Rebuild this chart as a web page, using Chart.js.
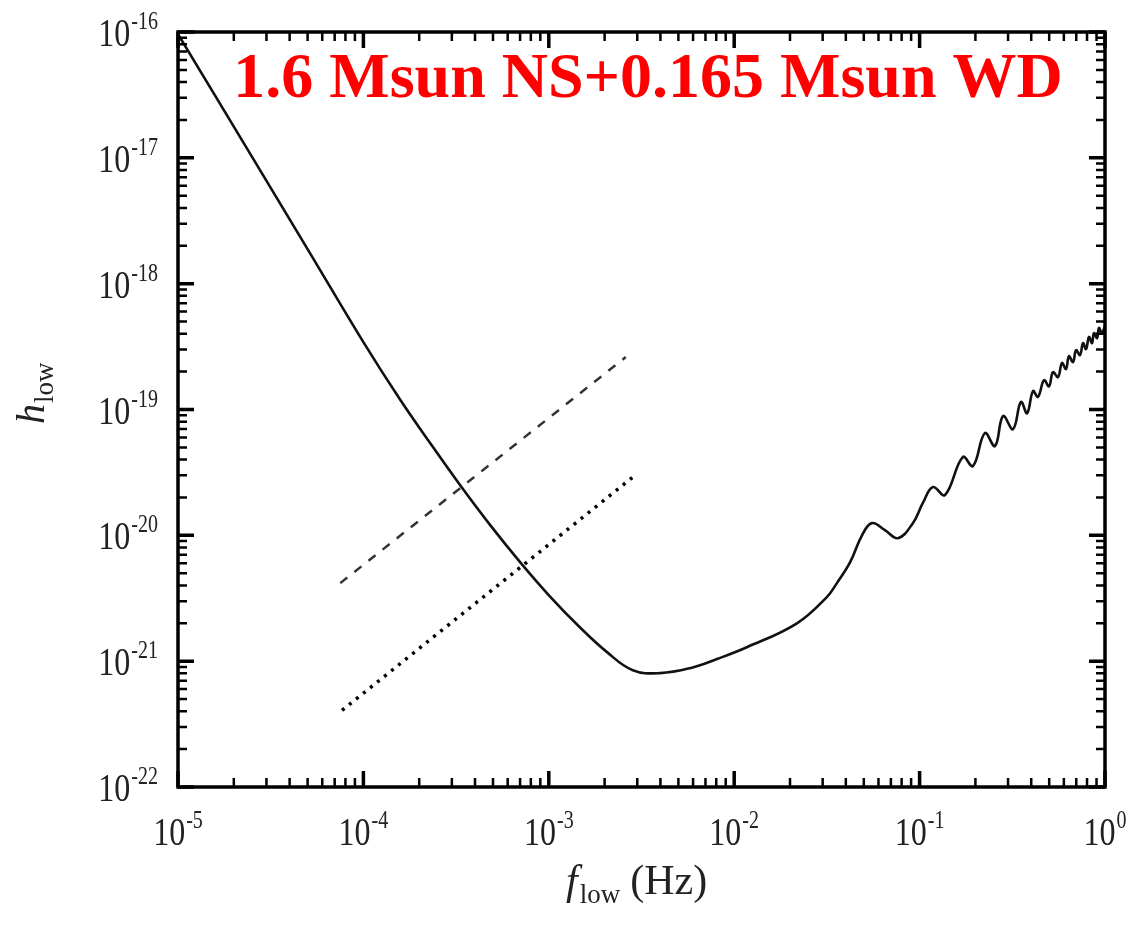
<!DOCTYPE html>
<html>
<head>
<meta charset="utf-8">
<script src="https://cdn.jsdelivr.net/npm/chart.js@4.4.0/dist/chart.umd.min.js"></script>
<style>
  html, body { margin: 0; padding: 0; background: #fff; }
</style>
</head>
<body>
<canvas id="chart" width="1127" height="933"></canvas>
<script>
// solid curve: frequency (Hz) and strain
const curveF = [1e-5, 2.57e-5, 5.15e-5, 1.0e-4, 1.57e-4, 2.29e-4, 3.32e-4, 4.82e-4, 7.0e-4, 1.01e-3, 1.47e-3, 2.06e-3,
  2.84e-3, 3.98e-3, 5.78e-3, 8.07e-3, 1.17e-2, 2.18e-2, 3.16e-2, 3.58e-2, 4.22e-2, 4.89e-2,
  5.53e-2, 6.5e-2, 7.65e-2, 9.2e-2, 0.104, 0.118, 0.137, 0.171, 0.194, 0.225,
  0.255, 0.282, 0.319, 0.352, 0.380, 0.409, 0.435, 0.469, 0.499, 0.524,
  0.558, 0.586, 0.616, 0.639, 0.672, 0.698, 0.733, 0.761, 0.790, 0.820,
  0.851, 0.872, 0.906, 0.928, 0.963, 1.0];
const curveH = [9.6e-17, 9.6e-18, 1.75e-18, 3.43e-19, 1.21e-19, 5.41e-20, 2.51e-20, 1.21e-20, 6.12e-21, 3.29e-21, 1.86e-21, 1.18e-21,
  8.47e-22, 8.04e-22, 8.8e-22, 1.04e-21, 1.29e-21, 2.0e-21, 3.23e-21, 4.17e-21, 6.12e-21, 1.0e-20,
  1.25e-20, 1.10e-20, 9.5e-21, 1.25e-20, 1.80e-20, 2.42e-20, 2.09e-20, 4.19e-20, 3.55e-20, 6.49e-20,
  5.12e-20, 8.87e-20, 6.98e-20, 1.15e-19, 9.35e-20, 1.40e-19, 1.26e-19, 1.71e-19, 1.53e-19, 1.98e-19,
  1.81e-19, 2.34e-19, 2.10e-19, 2.65e-19, 2.38e-19, 2.96e-19, 2.71e-19, 3.37e-19, 3.02e-19, 3.77e-19,
  3.37e-19, 4.05e-19, 3.70e-19, 4.44e-19, 4.05e-19, 4.60e-19];

// dashed and dotted straight lines (end points)
const dashF = [7.5e-5, 2.6e-3];
const dashH = [4.17e-21, 2.61e-19];
const dotF = [7.67e-5, 2.84e-3];
const dotH = [4.07e-22, 2.9e-20];

// axes
const xExps = [-5, -4, -3, -2, -1, 0];
const yExps = [-22, -21, -20, -19, -18, -17, -16];
const titleText = '1.6 Msun NS+0.165 Msun WD';

const toPoints = (xs, ys) => xs.map((x, i) => ({ x: x, y: ys[i] }));

const SERIF = '"Liberation Serif", "Times New Roman", serif';

function drawPower(ctx, exp, x, y, align) {
  const sx = 0.8;
  const expStr = '' + exp;
  ctx.font = '40px ' + SERIF;
  const wb = ctx.measureText('10').width * sx;
  ctx.font = '25px ' + SERIF;
  const we = ctx.measureText(expStr).width * sx;
  const total = wb + 1 + we;
  let start = x;
  if (align === 'right') start = x - total;
  if (align === 'center') start = x - total / 2;
  ctx.save();
  ctx.textAlign = 'left';
  ctx.textBaseline = 'alphabetic';
  ctx.fillStyle = '#222';
  ctx.translate(start, y);
  ctx.scale(sx, 1);
  ctx.font = '40px ' + SERIF;
  ctx.fillText('10', 0, 0);
  ctx.font = '25px ' + SERIF;
  ctx.fillText(expStr, (wb + 1) / sx, -17);
  ctx.restore();
}

const framePlugin = {
  id: 'frame',
  afterDatasetsDraw(chart) {
    const ctx = chart.ctx;
    const a = chart.chartArea;
    const xs = chart.scales.x;
    const ys = chart.scales.y;
    ctx.save();
    ctx.strokeStyle = '#000';
    ctx.lineCap = 'butt';

    // ticks on all four sides, pointing inward
    xExps.forEach(d => {
      for (let m = 1; m <= 9; m++) {
        const v = m * Math.pow(10, d);
        if (v < xs.min * 0.999 || v > xs.max * 1.001) continue;
        const px = xs.getPixelForValue(v);
        const len = m === 1 ? 16 : 9;
        ctx.lineWidth = m === 1 ? 3.5 : 2.5;
        ctx.beginPath();
        ctx.moveTo(px, a.bottom); ctx.lineTo(px, a.bottom - len);
        ctx.moveTo(px, a.top); ctx.lineTo(px, a.top + len);
        ctx.stroke();
      }
    });
    yExps.forEach(d => {
      for (let m = 1; m <= 9; m++) {
        const v = m * Math.pow(10, d);
        if (v < ys.min * 0.999 || v > ys.max * 1.001) continue;
        const py = ys.getPixelForValue(v);
        const len = m === 1 ? 16 : 9;
        ctx.lineWidth = m === 1 ? 3.5 : 2.5;
        ctx.beginPath();
        ctx.moveTo(a.left, py); ctx.lineTo(a.left + len, py);
        ctx.moveTo(a.right, py); ctx.lineTo(a.right - len, py);
        ctx.stroke();
      }
    });

    ctx.lineWidth = 3.5;
    ctx.strokeRect(a.left, a.top, a.right - a.left, a.bottom - a.top);

    // tick labels
    xExps.forEach(d => drawPower(ctx, d, xs.getPixelForValue(Math.pow(10, d)), a.bottom + 58, 'center'));
    yExps.forEach(d => drawPower(ctx, d, a.left - 20, ys.getPixelForValue(Math.pow(10, d)) + 14, 'right'));

    // x axis title
    ctx.fillStyle = '#222';
    ctx.textAlign = 'left';
    ctx.textBaseline = 'alphabetic';
    let tx = 566;
    ctx.font = 'italic 42px ' + SERIF;
    ctx.fillText('f', tx, 894);
    tx += ctx.measureText('f').width + 2;
    ctx.font = '27px ' + SERIF;
    ctx.fillText('low', tx, 903);
    tx += ctx.measureText('low').width + 10;
    ctx.font = '42px ' + SERIF;
    ctx.fillText('(Hz)', tx, 894);

    // y axis title
    ctx.save();
    ctx.translate(44, 424);
    ctx.rotate(-Math.PI / 2);
    ctx.font = 'italic 40px ' + SERIF;
    ctx.fillText('h', 0, 0);
    const hw = ctx.measureText('h').width;
    ctx.font = '27px ' + SERIF;
    ctx.fillText('low', hw + 1, 9);
    ctx.restore();

    // red label inside the plot
    ctx.fillStyle = '#ff0000';
    ctx.textAlign = 'center';
    ctx.font = 'bold 64px ' + SERIF;
    ctx.fillText(titleText, 648, 97);
    ctx.restore();
  }
};

new Chart(document.getElementById('chart').getContext('2d'), {
  type: 'line',
  data: {
    datasets: [
      {
        label: 'h_low',
        data: toPoints(curveF, curveH),
        borderColor: '#111',
        borderWidth: 2.6,
        pointRadius: 0,
        tension: 0.4,
        fill: false
      },
      {
        label: 'dashed',
        data: toPoints(dashF, dashH),
        borderColor: '#333',
        borderWidth: 2.5,
        borderDash: [9, 9],
        pointRadius: 0,
        fill: false
      },
      {
        label: 'dotted',
        data: toPoints(dotF, dotH),
        borderColor: '#000',
        borderWidth: 3.5,
        borderDash: [3, 6],
        pointRadius: 0,
        fill: false
      }
    ]
  },
  options: {
    responsive: false,
    devicePixelRatio: 1,
    animation: false,
    layout: { padding: { left: 178, top: 32, right: 22, bottom: 146 } },
    plugins: {
      legend: { display: false },
      title: { display: false },
      tooltip: { enabled: false }
    },
    scales: {
      x: { type: 'logarithmic', min: 1e-5, max: 1, display: false },
      y: { type: 'logarithmic', min: 1e-22, max: 1e-16, display: false }
    }
  },
  plugins: [framePlugin]
});
</script>
</body>
</html>
